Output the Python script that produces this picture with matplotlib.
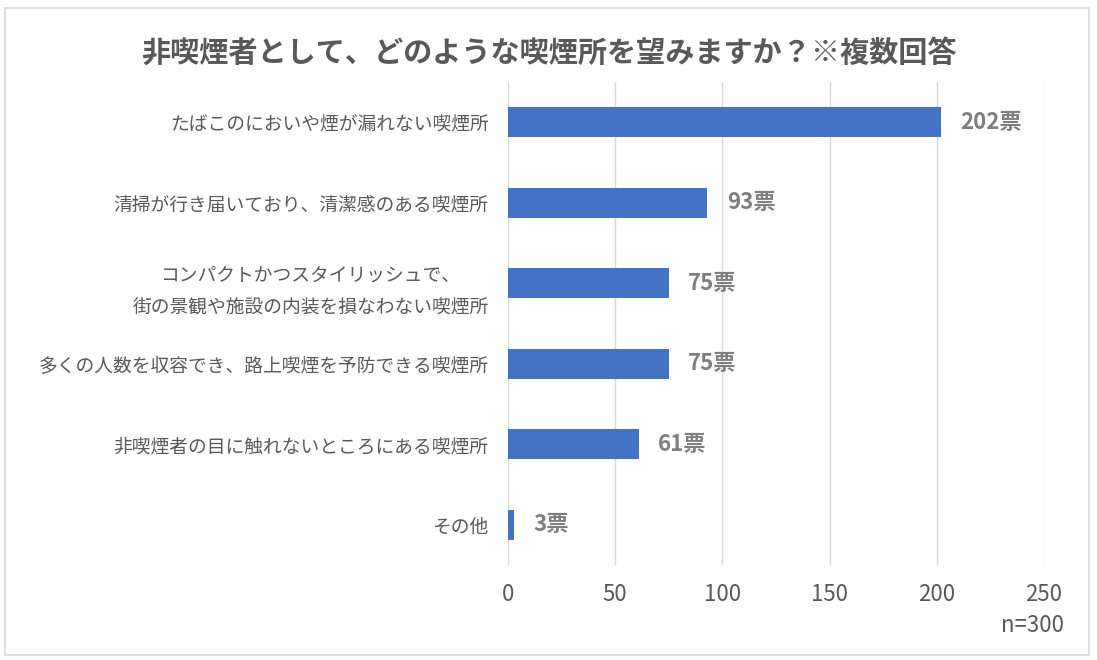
import matplotlib.pyplot as plt
from matplotlib.patches import Rectangle

plt.rcParams['font.family'] = ['Noto Sans CJK JP', 'DejaVu Sans']

# データ
categories = [
    "たばこのにおいや煙が漏れない喫煙所",
    "清掃が行き届いており、清潔感のある喫煙所",
    "コンパクトかつスタイリッシュで、\n街の景観や施設の内装を損なわない喫煙所",
    "多くの人数を収容でき、路上喫煙を予防できる喫煙所",
    "非喫煙者の目に触れないところにある喫煙所",
    "その他",
]
votes = [202, 93, 75, 75, 61, 3]
x_ticks = [0, 50, 100, 150, 200, 250]
title = "非喫煙者として、どのような喫煙所を望みますか？※複数回答"
note = "n=300"

BAR_COLOR = "#4472C4"
TEXT_COLOR = "#595959"
LABEL_COLOR = "#7F7F7F"

fig = plt.figure(figsize=(10.97, 6.6), dpi=100)
ax = fig.add_axes([0.463, 0.144, 0.4887, 0.732])

# 枠線
fig.patches.append(Rectangle((0.005, 0.008), 0.988, 0.98, transform=fig.transFigure,
                             fill=False, edgecolor="#D9D9D9", linewidth=1.2))

y = list(range(len(categories)))
ax.barh(y, votes, height=0.37, color=BAR_COLOR, zorder=3)
ax.set_ylim(len(categories) - 0.5, -0.5)
ax.set_xlim(0, 250)

for yi, v in zip(y, votes):
    ax.text(v + 9, yi, f"{v}票", va="center", ha="left", fontsize=16,
            fontweight="bold", color=LABEL_COLOR)

ax.set_yticks(y)
ax.set_yticklabels(categories, fontsize=13.5, color=TEXT_COLOR)
for lbl in ax.get_yticklabels():
    lbl.set_multialignment("center")
    lbl.set_linespacing(1.7)
ax.tick_params(axis="y", length=0, pad=14)

ax.set_xticks(x_ticks)
ax.set_xticklabels([str(t) for t in x_ticks], fontsize=16, color=TEXT_COLOR)
ax.tick_params(axis="x", length=0, pad=13)

ax.grid(axis="x", color="#D9D9D9", linewidth=1, zorder=0)
for s in ax.spines.values():
    s.set_visible(False)

fig.text(0.5, 0.92, title, ha="center", va="center", fontsize=21,
         fontweight="bold", color=TEXT_COLOR)
fig.text(0.97, 0.053, note, ha="right", va="center", fontsize=16, color=TEXT_COLOR)

fig.savefig("out.png", dpi=100)
